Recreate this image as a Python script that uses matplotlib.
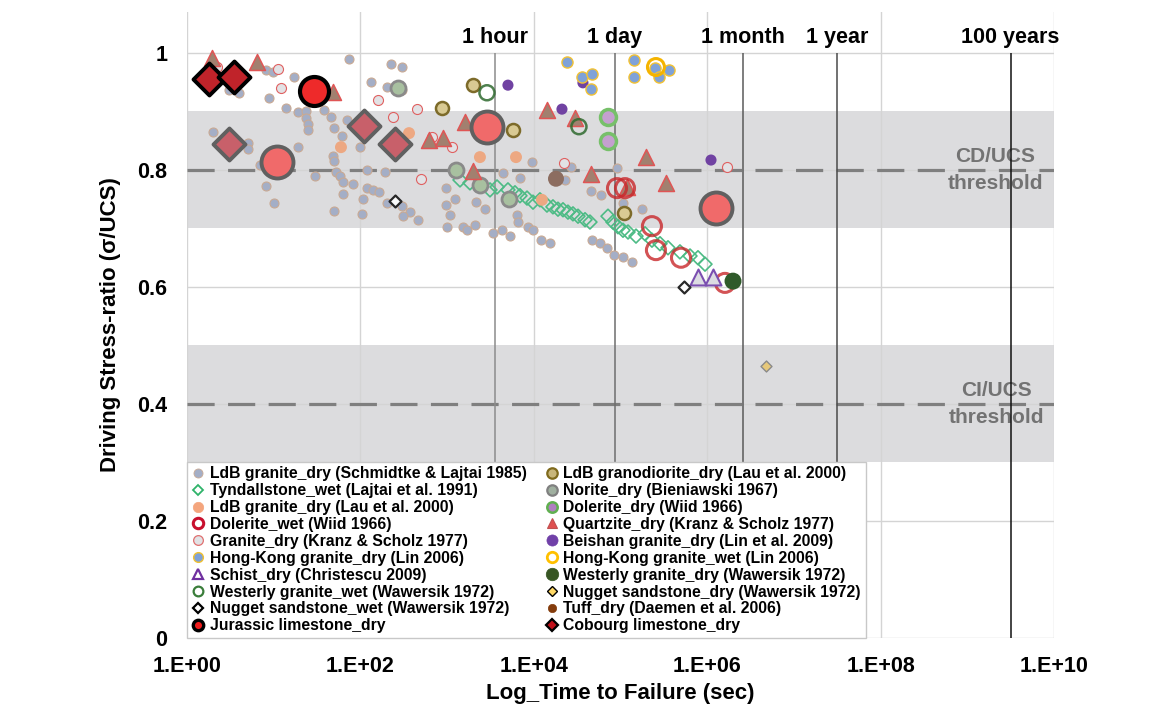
import numpy as np
import matplotlib
matplotlib.use("Agg")
import matplotlib.pyplot as plt
from matplotlib.lines import Line2D

plt.rcParams['font.family'] = ['Liberation Sans', 'DejaVu Sans']
plt.rcParams['font.weight'] = 'bold'

# ---- data: log10(time to failure, s) and stress ratio ----
ldb_sl_logt = [0.484, 0.600, 0.30, 0.704, 0.704, 0.842, 0.911, 1.003, 0.911, 0.992, 0.946, 1.234,
               1.142, 1.280, 1.373, 1.373, 1.396, 1.396, 1.580, 1.661, 1.695, 1.788, 1.845, 1.995,
               1.280, 1.684, 1.695, 1.476, 1.719, 1.765, 1.799, 1.915, 1.799, 1.695, 1.868, 2.353,
               2.480, 2.122, 2.307, 2.480, 2.076, 2.284, 2.076, 2.145, 2.214, 2.030, 2.307, 2.480,
               2.572, 2.664, 2.018, 2.491, 2.987, 3.091, 2.987, 3.333, 3.437, 3.033, 2.999, 3.183,
               3.230, 3.322, 3.529, 3.633, 3.725, 3.645, 3.841, 3.979, 3.806, 3.818, 3.933, 3.991,
               4.083, 4.187, 4.360, 4.429, 4.660, 4.775, 4.671, 4.764, 4.844, 4.925, 4.960, 5.029,
               5.029, 5.133, 5.248]
ldb_sl_ratio = [0.937, 0.932, 0.865, 0.846, 0.836, 0.808, 0.773, 0.744, 0.971, 0.968, 0.923, 0.959,
                0.906, 0.899, 0.901, 0.889, 0.879, 0.868, 0.903, 0.891, 0.872, 0.858, 0.885, 0.839,
                0.839, 0.824, 0.815, 0.790, 0.797, 0.790, 0.779, 0.776, 0.759, 0.730, 0.990, 0.981,
                0.976, 0.950, 0.942, 0.937, 0.800, 0.797, 0.769, 0.766, 0.762, 0.750, 0.744, 0.738,
                0.728, 0.715, 0.725, 0.721, 0.769, 0.750, 0.740, 0.745, 0.733, 0.723, 0.703, 0.703,
                0.697, 0.706, 0.692, 0.697, 0.688, 0.795, 0.786, 0.814, 0.723, 0.711, 0.703, 0.697,
                0.680, 0.675, 0.783, 0.805, 0.764, 0.757, 0.680, 0.675, 0.667, 0.655, 0.803, 0.744,
                0.651, 0.643, 0.733]

tynd_logt = [3.149, 3.264, 3.379, 3.495, 3.576, 3.702, 3.783, 3.841, 3.922, 3.991, 4.071, 4.152,
             4.221, 4.279, 4.337, 4.394, 4.452, 4.510, 4.591, 4.648, 4.856, 4.913, 4.971, 5.029,
             5.087, 5.179, 5.283, 5.363, 5.456, 5.548, 5.686, 5.802, 5.894, 5.975]
tynd_ratio = [0.783, 0.778, 0.774, 0.766, 0.771, 0.766, 0.761, 0.756, 0.752, 0.745, 0.749, 0.740,
              0.737, 0.733, 0.732, 0.728, 0.725, 0.721, 0.715, 0.711, 0.721, 0.711, 0.703, 0.697,
              0.694, 0.687, 0.691, 0.680, 0.674, 0.667, 0.660, 0.653, 0.650, 0.639]

ldb_lau_logt = [2.561, 1.776, 3.379, 3.795, 4.094]
ldb_lau_ratio = [0.863, 0.839, 0.822, 0.822, 0.749]

dol_wet_logt = [4.960, 5.052, 5.363, 5.409, 5.698, 6.205]
dol_wet_ratio = [0.769, 0.769, 0.704, 0.663, 0.650, 0.607]

gran_ks_logt = [0.346, 1.050, 1.084, 2.203, 2.376, 2.653, 2.699, 2.826, 3.056, 4.348, 6.228]
gran_ks_ratio = [0.976, 0.973, 0.940, 0.920, 0.891, 0.904, 0.785, 0.856, 0.839, 0.812, 0.805]

hk_dry_logt = [4.383, 4.556, 4.671, 4.660, 5.156, 5.156, 5.398, 5.444, 5.559]
hk_dry_ratio = [0.985, 0.959, 0.964, 0.938, 0.988, 0.959, 0.974, 0.959, 0.971]

schist_logt = [5.894, 6.067]
schist_ratio = [0.617, 0.617]

west_wet_logt = [3.460, 4.521]
west_wet_ratio = [0.932, 0.874]

nug_wet_logt = [5.732, 2.399]
nug_wet_ratio = [0.600, 0.747]

jur_logt = [1.465]
jur_ratio = [0.935]
jur2_logt = [1.038, 3.460, 6.101]
jur2_ratio = [0.814, 0.874, 0.735]

grano_logt = [3.299, 2.941, 3.760, 5.040]
grano_ratio = [0.945, 0.906, 0.868, 0.726]

norite_logt = [2.434, 3.103, 3.379, 3.714]
norite_ratio = [0.940, 0.800, 0.774, 0.750]

dol_dry_logt = [4.856, 4.856]
dol_dry_ratio = [0.891, 0.850]

quartz_logt = [0.288, 0.807, 1.684, 2.791, 2.953, 3.206, 3.299, 4.152, 4.475, 4.660, 5.075, 5.294, 5.525]
quartz_ratio = [0.991, 0.985, 0.933, 0.851, 0.855, 0.882, 0.798, 0.903, 0.889, 0.793, 0.771, 0.822, 0.778]

beishan_logt = [3.702, 4.325, 4.567, 6.044]
beishan_ratio = [0.945, 0.904, 0.949, 0.817]

hk_wet_logt = [5.409]
hk_wet_ratio = [0.976]

west_dry_logt = [6.298]
west_dry_ratio = [0.610]

nug_dry_logt = [6.678]
nug_dry_ratio = [0.465]

tuff_logt = [4.256]
tuff_ratio = [0.785]

cob_logt = [0.254, 0.542]
cob_ratio = [0.956, 0.959]
cob2_logt = [0.484, 2.041, 2.399]
cob2_ratio = [0.845, 0.875, 0.845]

time_marks = [3600, 86400, 2.592e6, 3.1536e7, 3.1536e9]
time_names = ['1 hour', '1 day', '1 month', '1 year', '100 years']
time_colors = ['#8c8c8c', '#6e6e6e', '#5a5a5a', '#4a4a4a', '#111111']

xticks = [1e0, 1e2, 1e4, 1e6, 1e8, 1e10]
xtick_labels = ['1.E+00', '1.E+02', '1.E+04', '1.E+06', '1.E+08', '1.E+10']
yticks = [0, 0.2, 0.4, 0.6, 0.8, 1.0]
ytick_labels = ['0', '0.2', '0.4', '0.6', '0.8', '1']

fig = plt.figure(figsize=(11.65, 7.08), dpi=100)
ax = fig.add_axes([0.1605, 0.0989, 0.7442, 0.8841])
ax.set_xscale('log')
ax.set_xlim(1e0, 1e10)
ax.set_ylim(0, 1.07)

# bands and threshold lines
band_col = '#dcdcde'
ax.axhspan(0.7, 0.9, color=band_col, lw=0, zorder=0)
ax.axhspan(0.3, 0.5, color=band_col, lw=0, zorder=0)
ax.set_axisbelow(True)
ax.grid(True, which='major', color='#d4d4d4', lw=1.0, zorder=0.5)
ax.minorticks_off()
for yv in (0.8, 0.4):
    ax.axhline(yv, color='#7f7f7f', lw=2.3, dashes=(8.5, 4.2), zorder=1)

ax.vlines(time_marks, 0, 1.0, colors=time_colors, lw=1.1, zorder=1.2)
for t, name in zip(time_marks, time_names):
    ax.text(t, 1.027, name, ha='center', va='center', fontsize=15.5, fontweight='bold', color='black')

ax.text(10**9.32, 0.8, 'CD/UCS\nthreshold', ha='center', va='center', fontsize=15,
        fontweight='bold', color='#737373', linespacing=1.5, zorder=1.1)
ax.text(10**9.34, 0.4, 'CI/UCS\nthreshold', ha='center', va='center', fontsize=15,
        fontweight='bold', color='#737373', linespacing=1.5, zorder=1.1)


def sc(logt, ratio, **kw):
    ax.scatter(10 ** np.array(logt), ratio, zorder=3, **kw)


sc(ldb_sl_logt, ldb_sl_ratio, s=42, marker='o', facecolor='#a4aec6', edgecolor='#c9a993', lw=0.8)
sc(tynd_logt, tynd_ratio, s=50, marker='D', facecolor='none', edgecolor='#4dbb85', lw=1.2)
sc(ldb_lau_logt, ldb_lau_ratio, s=74, marker='o', facecolor='#eda882', edgecolor='none')
sc(gran_ks_logt, gran_ks_ratio, s=52, marker='o', facecolor='#e2e2e5', edgecolor='#e06060', lw=0.8)
sc(grano_logt, grano_ratio, s=88, marker='o', facecolor='#d9ca93', edgecolor='#7d6b2a', lw=1.8)
sc(norite_logt, norite_ratio, s=117, marker='o', facecolor='#a8c0a0', edgecolor='#8a8a8a', lw=2.0)
sc(dol_dry_logt, dol_dry_ratio, s=132, marker='o', facecolor='#c4a0cf', edgecolor='#77c06a', lw=2.5)
sc(quartz_logt, quartz_ratio, s=132, marker='^', facecolor='#a2806f', edgecolor='#e05555', lw=1.1)
sc(beishan_logt, beishan_ratio, s=64, marker='o', facecolor='#7042a2', edgecolor='none')
sc(hk_dry_logt, hk_dry_ratio, s=64, marker='o', facecolor='#7fa2d8', edgecolor='#f3c233', lw=1.0)
sc(hk_wet_logt, hk_wet_ratio, s=149, marker='o', facecolor='none', edgecolor='#f5b400', lw=2.2)
sc(west_wet_logt, west_wet_ratio, s=117, marker='o', facecolor='none', edgecolor='#2f6a2f', lw=1.8, alpha=0.85)
sc(tuff_logt, tuff_ratio, s=132, marker='o', facecolor='#8c6d60', edgecolor='none')
sc(dol_wet_logt, dol_wet_ratio, s=188, marker='o', facecolor='none', edgecolor='#c8282b', lw=2.2, alpha=0.8)
sc(schist_logt, schist_ratio, s=132, marker='^', facecolor='#dcdce2', edgecolor='#7b4fb0', lw=1.5)
sc(west_dry_logt, west_dry_ratio, s=149, marker='o', facecolor='#2f5a2a', edgecolor='none')
sc(nug_wet_logt, nug_wet_ratio, s=37, marker='D', facecolor='white', edgecolor='#111111', lw=1.6, alpha=0.9)
sc(nug_dry_logt, nug_dry_ratio, s=31, marker='D', facecolor='#e6c87a', edgecolor='#8a8a8a', lw=1.0)
sc(jur2_logt, jur2_ratio, s=530, marker='o', facecolor='#f06a6a', edgecolor='#606060', lw=2.8)
sc(cob2_logt, cob2_ratio, s=265, marker='D', facecolor='#c8606a', edgecolor='#606060', lw=2.8)
sc(jur_logt, jur_ratio, s=436, marker='o', facecolor='#ee2a2a', edgecolor='black', lw=3.0)
sc(cob_logt, cob_ratio, s=265, marker='D', facecolor='#c0232a', edgecolor='black', lw=2.8)

ax.set_xticks(xticks)
ax.set_xticklabels(xtick_labels)
ax.set_yticks(yticks)
ax.set_yticklabels(ytick_labels)
ax.tick_params(axis='both', length=0, labelsize=15.5)
ax.tick_params(axis='x', pad=13)
ax.tick_params(axis='y', pad=14)
for sp in ax.spines.values():
    sp.set_visible(False)

ax.set_xlabel('Log_Time to Failure (sec)', fontsize=16, fontweight='bold', labelpad=4)
ax.set_ylabel('Driving Stress-ratio (\u03c3/UCS)', fontsize=16, fontweight='bold', labelpad=12)

# legend with small proxy markers
def h(marker, fc, ec, ms=7, mew=1.0):
    return Line2D([], [], ls='none', marker=marker, markerfacecolor=fc, markeredgecolor=ec,
                  markersize=ms, markeredgewidth=mew)

handles = [
    h('o', '#a4aec6', '#c9a993', 6.5, 0.6),
    h('D', 'white', '#2fb36a', 5.5, 1.3),
    h('o', '#f4a57d', '#f4a57d', 7.5, 0.5),
    h('o', 'white', '#c8102e', 7.5, 2.2),
    h('o', '#e2e2e5', '#e07070', 7, 0.9),
    h('o', '#7ea1d6', '#f0c030', 7, 1.0),
    h('^', 'white', '#7030a0', 7.5, 1.6),
    h('o', 'white', '#3a7d3a', 7, 1.6),
    h('D', 'white', 'black', 5.5, 1.6),
    h('o', '#ee1c1c', 'black', 7.5, 2.4),
    h('o', '#c8b67a', '#7f6a1c', 7.5, 1.6),
    h('o', '#a0b0a0', '#808080', 7.5, 1.6),
    h('o', '#b07fc0', '#60b050', 7.5, 1.8),
    h('^', '#e05050', '#c05050', 7, 0.8),
    h('o', '#7040a8', '#7040a8', 8, 0.5),
    h('o', 'white', '#ffc000', 7.5, 2.0),
    h('o', '#375623', '#375623', 9, 0.5),
    h('D', '#ffd966', 'black', 5.5, 1.0),
    h('o', '#843c0c', '#843c0c', 6, 0.5),
    h('D', '#c0101a', 'black', 6, 1.6),
]
labels = [
    'LdB granite_dry (Schmidtke & Lajtai 1985)',
    'Tyndallstone_wet (Lajtai et al. 1991)',
    'LdB granite_dry (Lau et al. 2000)',
    'Dolerite_wet (Wiid 1966)',
    'Granite_dry (Kranz & Scholz 1977)',
    'Hong-Kong granite_dry (Lin 2006)',
    'Schist_dry (Christescu 2009)',
    'Westerly granite_wet (Wawersik 1972)',
    'Nugget sandstone_wet (Wawersik 1972)',
    'Jurassic limestone_dry',
    'LdB granodiorite_dry (Lau et al. 2000)',
    'Norite_dry (Bieniawski 1967)',
    'Dolerite_dry (Wiid 1966)',
    'Quartzite_dry (Kranz & Scholz 1977)',
    'Beishan granite_dry (Lin et al. 2009)',
    'Hong-Kong granite_wet (Lin 2006)',
    'Westerly granite_dry (Wawersik 1972)',
    'Nugget sandstone_dry (Wawersik 1972)',
    'Tuff_dry (Daemen et al. 2006)',
    'Cobourg limestone_dry',
]
leg = ax.legend(handles, labels, ncol=2, loc='lower left', bbox_to_anchor=(0, 0),
                borderaxespad=0, prop={'weight': 'bold', 'size': 11.3},
                handlelength=0.8, handletextpad=0.35, columnspacing=1.2,
                labelspacing=0.12, borderpad=0.3, frameon=True, fancybox=False)
leg.get_frame().set_edgecolor('#c8c8c8')
leg.get_frame().set_linewidth(1.0)
leg.get_frame().set_facecolor('white')
leg.get_frame().set_alpha(1)
leg.set_zorder(5)

fig.savefig('out.png', dpi=100)
